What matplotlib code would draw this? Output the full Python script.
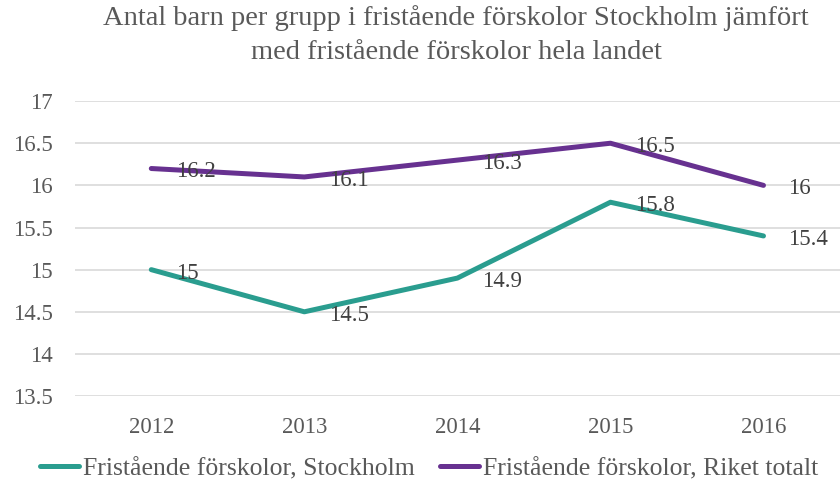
import matplotlib
matplotlib.use("Agg")
import matplotlib.pyplot as plt

plt.rcParams["font.family"] = ["Liberation Serif", "DejaVu Serif"]

years = ["2012", "2013", "2014", "2015", "2016"]
stockholm = [15, 14.5, 14.9, 15.8, 15.4]
riket = [16.2, 16.1, 16.3, 16.5, 16.0]
labels_sthlm = ["15", "14.5", "14.9", "15.8", "15.4"]
labels_riket = ["16.2", "16.1", "16.3", "16.5", "16"]
yticks = [13.5, 14, 14.5, 15, 15.5, 16, 16.5, 17]

TEAL = "#2a9d8f"
PURPLE = "#673190"
GREY = "#595959"

fig = plt.figure(figsize=(8.4, 4.86), dpi=100)
ax = fig.add_axes([0.089, 0.185, 0.911, 0.607])

x = list(range(len(years)))
ax.plot(x, stockholm, color=TEAL, lw=3.6, solid_capstyle="round",
        solid_joinstyle="round", label="Fristående förskolor, Stockholm")
ax.plot(x, riket, color=PURPLE, lw=3.6, solid_capstyle="round",
        solid_joinstyle="round", label="Fristående förskolor, Riket totalt")

# data labels to the right of each point
for xs, ys, labs in [(x, stockholm, labels_sthlm), (x, riket, labels_riket)]:
    for xi, yi, lab in zip(xs, ys, labs):
        ax.annotate(lab, (xi, yi), xytext=(18, -2.5), textcoords="offset points",
                    ha="left", va="center", fontsize=16.5, color="#404040")

ax.set_xlim(-0.5, 4.5)
ax.set_ylim(13.5, 17)
ax.set_yticks(yticks)
ax.set_yticklabels([f"{t:g}" for t in yticks])
ax.set_xticks(x)
ax.set_xticklabels(years)
ax.tick_params(length=0, labelsize=16.5, colors=GREY)
ax.tick_params(axis="y", pad=16)
ax.tick_params(axis="x", pad=15)
ax.grid(axis="y", color="#d9d9d9", lw=1.2)
ax.set_axisbelow(True)
for s in ax.spines.values():
    s.set_visible(False)

fig.text(0.543, 0.962, "Antal barn per grupp i fristående förskolor Stockholm jämfört",
         ha="center", va="center", fontsize=20.5, color=GREY)
fig.text(0.543, 0.893, "med fristående förskolor hela landet",
         ha="center", va="center", fontsize=20.5, color=GREY)

fig.legend(loc="center", bbox_to_anchor=(0.511, 0.036), ncol=2, frameon=False,
           fontsize=18.5, handlelength=1.5, handletextpad=0.15, columnspacing=1.0,
           labelcolor=GREY)

fig.savefig("out.png", dpi=100)
